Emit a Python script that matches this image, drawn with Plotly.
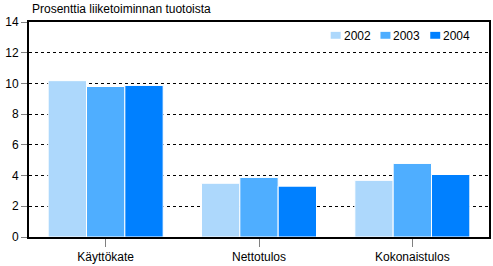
import plotly.graph_objects as go

categories = ["Käyttökate", "Nettotulos", "Kokonaistulos"]
years = ["2002", "2003", "2004"]
values_2002 = [10.18, 3.50, 3.69]
values_2003 = [9.80, 3.88, 4.79]
values_2004 = [9.87, 3.31, 4.07]
colors = ["#ADD8FC", "#4FAEFF", "#0080FF"]

W, H = 493, 266
ML, MR, MT, MB = 29, 2, 22, 26
PW, PH = W - ML - MR, H - MT - MB

def px(x):
    return (x - ML) / PW

def py(y):
    return (H - MB - y) / PH

fig = go.Figure()
for name, vals, col in zip(years, [values_2002, values_2003, values_2004], colors):
    fig.add_trace(go.Bar(x=categories, y=vals, name=name, showlegend=False,
                         marker=dict(color=col, line=dict(color="white", width=1))))

shapes = []
annotations = [dict(text="Prosenttia liiketoiminnan tuotoista", xref="paper", yref="paper",
                    x=0, y=1, xanchor="left", yanchor="bottom", yshift=4, xshift=1,
                    showarrow=False, font=dict(size=12))]
for i, (name, col) in enumerate(zip(years, colors)):
    x0 = 332 + 50 * i
    shapes.append(dict(type="rect", xref="paper", yref="paper",
                       x0=px(x0), x1=px(x0 + 10), y0=py(39), y1=py(32),
                       fillcolor=col, line=dict(width=0)))
    annotations.append(dict(text=name, xref="paper", yref="paper", x=px(x0 + 11), y=py(36),
                            xanchor="left", yanchor="middle", showarrow=False,
                            font=dict(size=12)))

fig.update_layout(
    width=W, height=H,
    margin=dict(l=ML, r=MR, t=MT, b=MB),
    paper_bgcolor="white", plot_bgcolor="white",
    barmode="group", bargap=0.25, bargroupgap=0.0,
    font=dict(family="Liberation Sans, Arial, sans-serif", size=12, color="black"),
    showlegend=False,
    shapes=shapes,
    annotations=annotations,
)
fig.update_xaxes(showline=True, linecolor="black", linewidth=2, mirror=True,
                 ticks="outside", ticklen=8, tickcolor="#808080", tickwidth=1,
                 showgrid=False)
fig.update_yaxes(range=[0, 14], dtick=2, showline=True, linecolor="black", linewidth=2,
                 mirror=True, ticks="outside", ticklen=6, tickcolor="#808080",
                 showgrid=True, gridcolor="black", griddash="3px,3px", gridwidth=1,
                 zeroline=False)

fig.write_html("out.html")
